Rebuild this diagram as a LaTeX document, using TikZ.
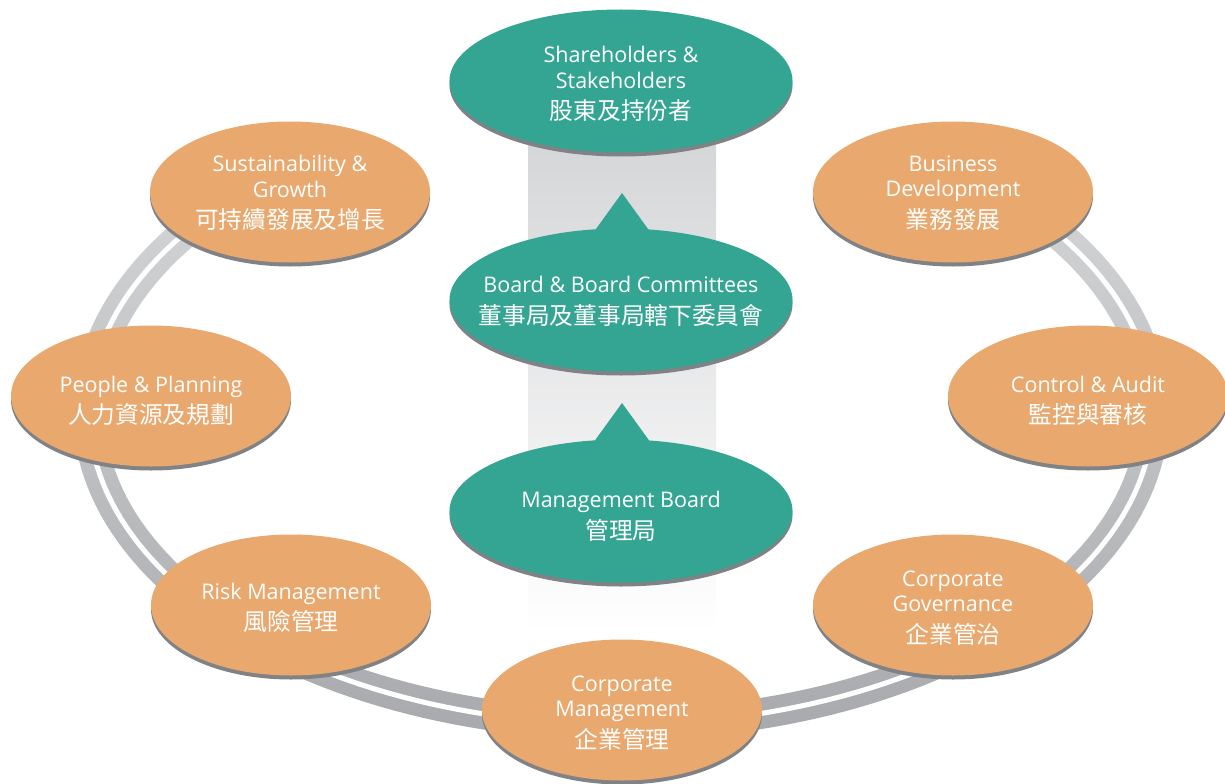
\documentclass[tikz,border=0pt]{standalone}
\usepackage{fontspec}
\setmainfont{Open Sans}
\newfontfamily\cjk{Noto Sans CJK TC}
\usetikzlibrary{shapes.geometric,shadows,calc}

\definecolor{govteal}{RGB}{53,165,147}
\definecolor{bizorange}{RGB}{232,168,110}
\definecolor{shadowgrey}{RGB}{128,130,133}
\definecolor{ringlight}{RGB}{211,212,214}
\definecolor{ringdark}{RGB}{167,169,172}
\definecolor{colgrey}{RGB}{213,214,216}

\newcommand\latintext{\fontsize{21.6}{25.6}\selectfont}
\newcommand\zh{\cjk\fontsize{23.8}{25.6}\selectfont}

\begin{document}
\begin{tikzpicture}[x=1bp,y=-1bp,
  flatshadow/.style={drop shadow={shadow xshift=0bp,shadow yshift=-4bp,fill=shadowgrey,opacity=1}},
  bubble/.style={ellipse,fill=govteal,minimum width=343bp,minimum height=143bp,
    inner sep=0pt,flatshadow},
  area/.style={ellipse,fill=bizorange,minimum width=280bp,minimum height=141bp,
    inner sep=0pt,flatshadow},
  caption/.style={text=white,align=center,font=\latintext,inner sep=0pt},
  pointer/.style={fill=govteal,flatshadow}]

\useasboundingbox (0,0) rectangle (1225,784);

% vertical column behind the governance bubbles
\shade[top color=colgrey,bottom color=white] (528,140) rectangle (716,632);

% double ring linking the functional areas
\shade[top color=ringlight,bottom color=ringdark]
  plot[domain=-44:224,samples=160,variable=\t] ({621+548*cos(\t)},{412+328*sin(\t)})
  -- plot[domain=224:-44,samples=160,variable=\t] ({621+516*cos(\t)},{412+297*sin(\t)})
  -- cycle;
\draw[white,line width=5bp]
  plot[domain=-44:224,samples=160,variable=\t] ({621+532*cos(\t)},{412+312.5*sin(\t)});

% functional areas
\node[area] (sg) at (290,192) {};
\node[caption] (sgt) at ($(sg)+(0,1)$) {Sustainability \&\\Growth\\[6bp]\zh 可持續發展及增長};
\node[area] (bd) at (953,192) {};
\node[caption] (bdt) at ($(bd)+(0,1)$) {Business\\Development\\[6bp]\zh 業務發展};
\node[area] (pp) at (151,396) {};
\node[caption] (ppt) at ($(pp)+(0,5)$) {People \& Planning\\[6bp]\zh 人力資源及規劃};
\node[area] (ca) at (1088,396) {};
\node[caption] (cat) at ($(ca)+(0,5)$) {Control \& Audit\\[6bp]\zh 監控與審核};
\node[area] (rm) at (291,605) {};
\node[caption] (rmt) at ($(rm)+(0,3)$) {Risk Management\\[6bp]\zh 風險管理};
\node[area] (cg) at (953,605) {};
\node[caption] (cgt) at ($(cg)+(0,3)$) {Corporate\\Governance\\[6bp]\zh 企業管治};
\node[area] (cm) at (622,710) {};
\node[caption] (cmt) at ($(cm)+(0,3)$) {Corporate\\Management\\[6bp]\zh 企業管理};

% governance chain
\node[bubble] (sh) at (621,81) {};
\node[caption] (sht) at ($(sh)+(0,3)$) {Shareholders \&\\Stakeholders\\[6bp]\zh 股東及持份者};

\coordinate (bbtip) at (622,193);
\path[pointer] (bbtip) -- ($(bbtip)+(34,47)$) -- ($(bbtip)+(-34,47)$) -- cycle;
\node[bubble] (bb) at (621,300) {};
\node[caption] (bbt) at ($(bb)+(0,1.5)$) {Board \& Board Committees\\[6bp]\zh 董事局及董事局轄下委員會};

\coordinate (mbtip) at (622,403);
\path[pointer] (mbtip) -- ($(mbtip)+(34,47)$) -- ($(mbtip)+(-34,47)$) -- cycle;
\node[bubble] (mb) at (621,511) {};
\node[caption] (mbt) at ($(mb)+(0,5.5)$) {Management Board\\[6bp]\zh 管理局};

\end{tikzpicture}
\end{document}
